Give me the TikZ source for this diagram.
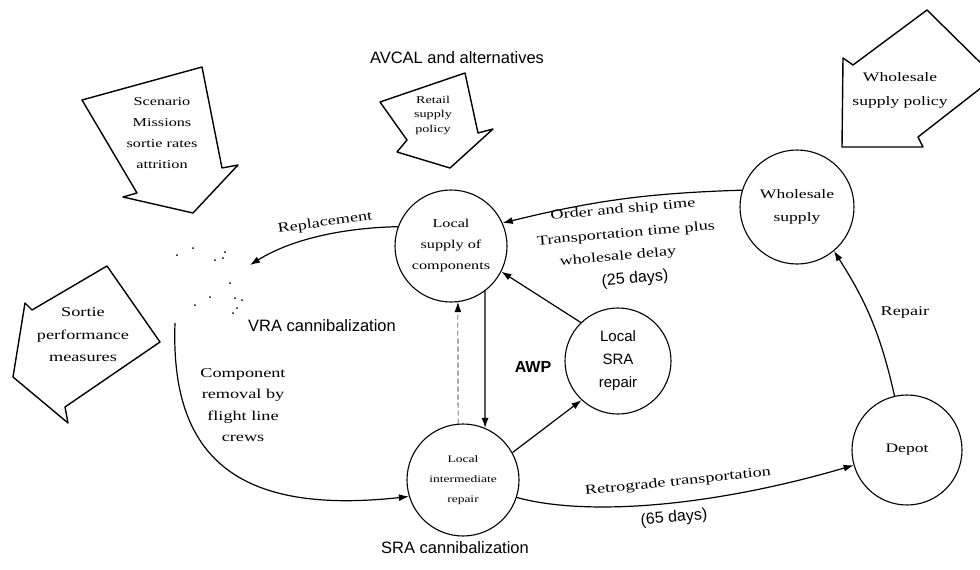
\documentclass[tikz,border=0pt]{standalone}
\usepackage{fontspec}
\setmainfont{Liberation Sans}
\newfontfamily\faintfont[FakeStretch=1.35]{Liberation Serif}
\usetikzlibrary{arrows.meta}
\newcommand{\fsz}[2]{\fontsize{#1}{#2}\selectfont}

\begin{document}
\begin{tikzpicture}[x=1pt, y=-1pt,
    station/.style={circle, draw, line width=1.1pt, inner sep=0pt, align=center, font=\faintfont\fsz{12}{21}},
    flow/.style={line width=1.2pt, -{Latex[length=10pt, width=7pt]}},
    policy/.style={line width=1.4pt, line join=round, fill=white},
    faint/.style={font=\faintfont\fsz{13.5}{21.5}, align=center},
    lbl/.style={font=\fsz{16.5}{20}}]

    \clip (0,0) rectangle (980,570);

    % policy arrows
    \draw[policy] (82,100) -- (202,67) -- (222,168) -- (238,165) -- (193,213) -- (123,197) -- (137,193) -- cycle;
    \node[faint, font=\faintfont\fsz{12}{21}] (scenario) at (162,133) {Scenario\\Missions\\sortie rates\\attrition};

    \draw[policy] (380,102) -- (465,73) -- (478,133) -- (493,129) -- (450,168) -- (397,152) -- (407,140) -- cycle;
    \node[faint, font=\faintfont\fsz{10.5}{14.5}] (retail) at (433,115) {Retail\\supply\\policy};

    \draw[policy] (843,58) -- (853,65) -- (927,10) -- (995,77) -- (918,137) -- (923,147) -- (842,147) -- cycle;
    \node[faint, font=\faintfont\fsz{13}{24}] (wspolicy) at (900,90) {Wholesale\\supply policy};

    \draw[policy] (32,310) -- (25,303) -- (13,377) -- (68,423) -- (65,407) -- (160,342) -- (107,266) -- cycle;
    \node[faint, font=\faintfont\fsz{13.5}{22.5}] (sortie) at (83,335) {Sortie\\performance\\measures};

    \node[lbl] (avcal) at (457,58) {AVCAL and alternatives};

    % aircraft (faded)
    \foreach \p in {(177,255),(193,248),(215,260),(225,252),(223,258),(230,283),(210,297),(235,298),(242,300),(237,308),(233,313),(195,305)}
        \fill \p circle (1pt);
    \coordinate (aircraft) at (250,265);
    \coordinate (crews) at (175,323);

    % stations
    \node[station, minimum size=112pt] (supply) at (451,246) {Local\\supply of\\components};
    \node[station, minimum size=112pt, font=\faintfont\fsz{10}{20}] (interm) at (463,480) {Local\\intermediate\\repair};
    \node[station, minimum size=106pt, font=\fsz{15}{23}] (sra) at (618,361) {Local\\SRA\\repair};
    \node[station, minimum size=114pt, font=\faintfont\fsz{13}{23}] (wholesale) at (797,207) {Wholesale\\supply};
    \node[station, minimum size=110pt, font=\faintfont\fsz{13}{16}] (depot) at (907,450) {Depot};

    % flows
    \draw[flow] (supply.160) .. controls (340,228) and (290,240) .. (aircraft);
    \draw[flow] (crews) .. controls (170,460) and (240,515) .. (interm.197);
    \draw[flow] (supply.-53) -- (interm.67);
    \draw[flow, line width=0.6pt, dash pattern=on 5pt off 3pt] (interm.95) -- (supply.-83);
    \draw[flow] (interm.29) -- (sra.227);
    \draw[flow] (sra.134) -- (supply.-27);
    \draw[flow] (wholesale.163) to[bend right=6] (supply.24);
    \draw[flow] (depot.103) to[bend right=10] (wholesale.-50);
    \draw[flow] (interm.-18) .. controls (580,515) and (700,510) .. (depot.196);

    % labels
    \node[faint, rotate=8] (replacement) at (325,223) {Replacement};
    \node[faint] (removal) at (243,405) {Component\\removal by\\flight line\\crews};
    \node[lbl] (vra) at (322,326) {VRA cannibalization};
    \node[lbl] (sracann) at (455,548) {SRA cannibalization};
    \node[font=\bfseries\fsz{16}{20}] (awp) at (533,367) {AWP};
    \node[faint, rotate=5, inner sep=0pt] (ordership) at (623,210) {Order and ship time};
    \node[faint, rotate=5, inner sep=0pt] (transport) at (626,234) {Transportation time plus};
    \node[faint, rotate=5, inner sep=0pt] (delay) at (618,257) {wholesale delay};
    \node[lbl, font=\fsz{16}{20}, rotate=5, inner sep=0pt] (days25) at (635,279) {(25 days)};
    \node[faint] (repair) at (905,312) {Repair};
    \node[faint, rotate=6] (retro) at (678,482) {Retrograde transportation};
    \node[lbl, font=\fsz{16}{20}, rotate=5] (days65) at (674,518) {(65 days)};
\end{tikzpicture}
\end{document}
